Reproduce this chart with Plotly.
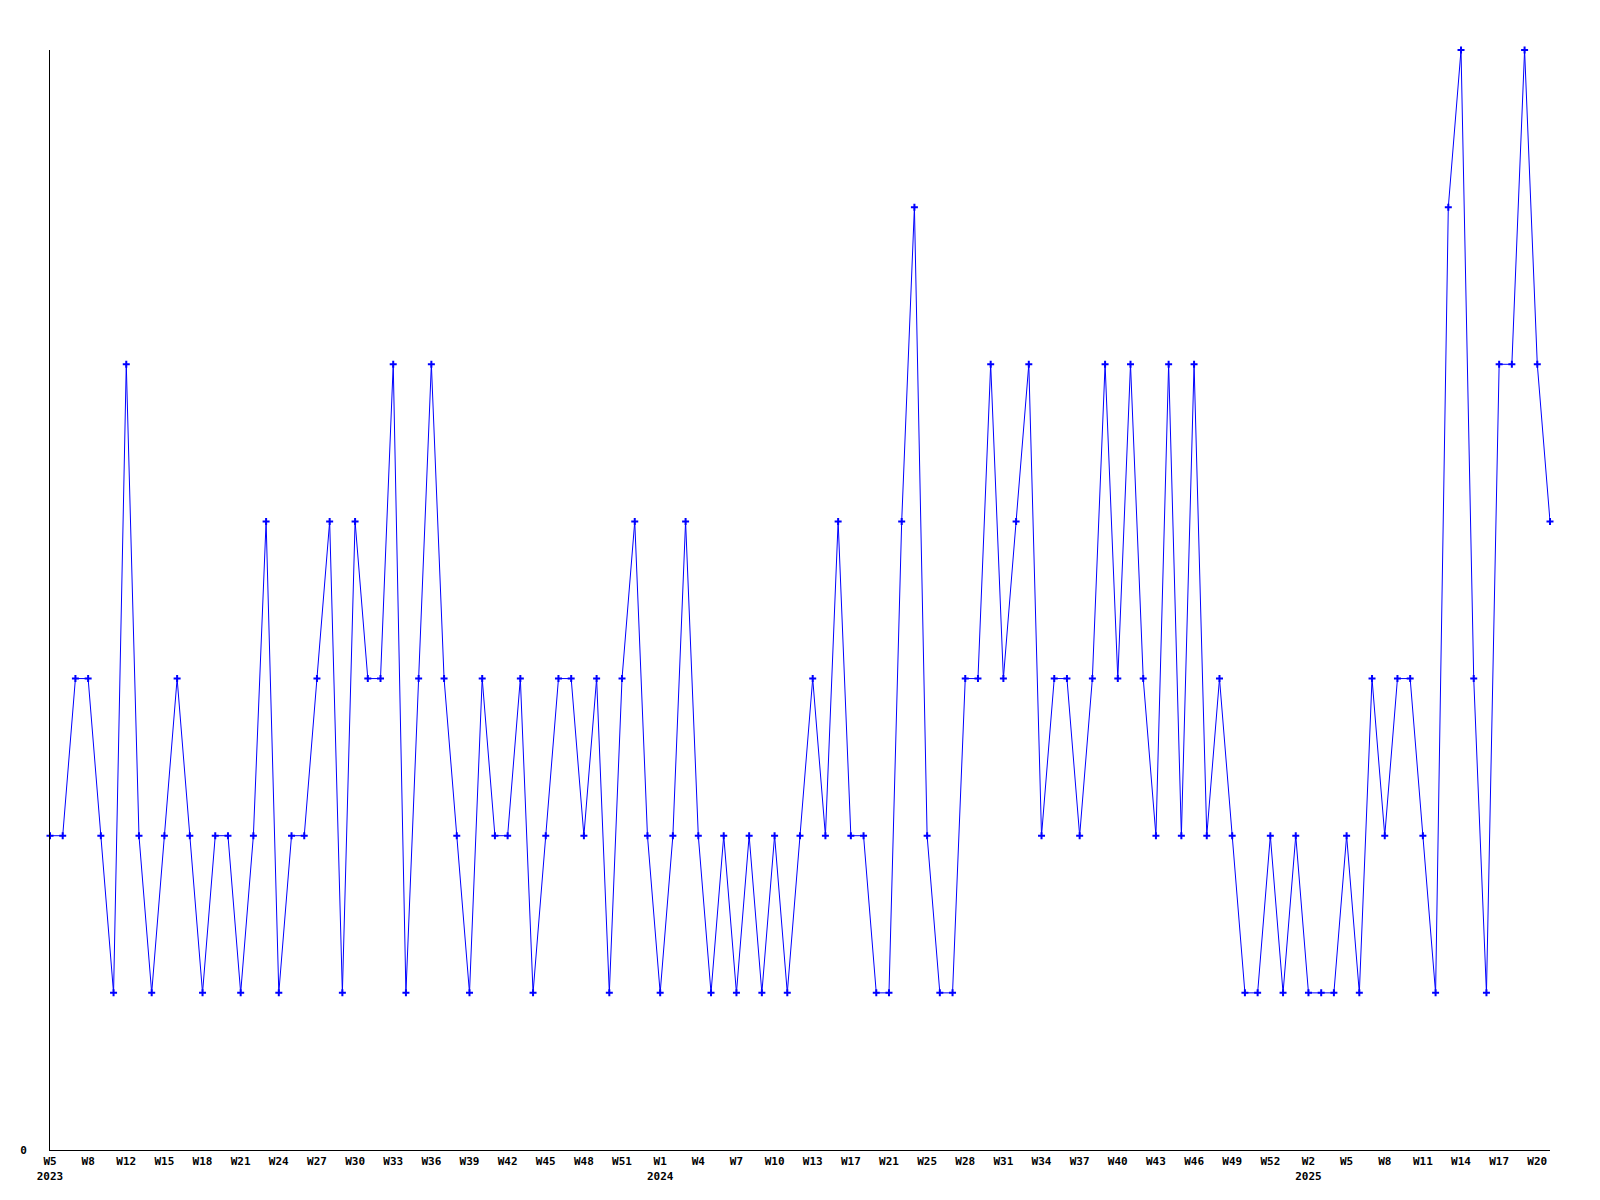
import plotly.graph_objects as go

# weekly values, 2023 W5 onward (119 points)
values = [
    2, 2, 3, 3, 2, 1, 5, 2, 1, 2, 3, 2, 1, 2, 2, 1, 2, 4, 1, 2,
    2, 3, 4, 1, 4, 3, 3, 5, 1, 3, 5, 3, 2, 1, 3, 2, 2, 3, 1, 2,
    3, 3, 2, 3, 1, 3, 4, 2, 1, 2, 4, 2, 1, 2, 1, 2, 1, 2, 1, 2,
    3, 2, 4, 2, 2, 1, 1, 4, 6, 2, 1, 1, 3, 3, 5, 3, 4, 5, 2, 3,
    3, 2, 3, 5, 3, 5, 3, 2, 5, 2, 5, 2, 3, 2, 1, 1, 2, 1, 2, 1,
    1, 1, 2, 1, 3, 2, 3, 3, 2, 1, 6, 7, 3, 1, 5, 5, 7, 5, 4,
]

# tick labels, one every 3rd point
tick_labels = [
    "W5<br>2023", "W8", "W12", "W15", "W18", "W21", "W24", "W27", "W30", "W33",
    "W36", "W39", "W42", "W45", "W48", "W51", "W1<br>2024", "W4", "W7", "W10",
    "W13", "W17", "W21", "W25", "W28", "W31", "W34", "W37", "W40", "W43",
    "W46", "W49", "W52", "W2<br>2025", "W5", "W8", "W11", "W14", "W17", "W20",
]
tick_step = 3

x = list(range(len(values)))
tickvals = [i * tick_step for i in range(len(tick_labels))]

fig = go.Figure()
fig.add_trace(go.Scatter(
    x=x, y=values, mode="lines+markers",
    line=dict(color="#0000FF", width=1),
    marker=dict(symbol="cross-thin", size=5, color="#0000FF",
                line=dict(color="#0000FF", width=2)),
    cliponaxis=False,
    showlegend=False,
))

font = dict(family="DejaVu Sans Mono", size=11, color="black", weight="bold")

fig.update_layout(
    width=1600, height=1200,
    margin=dict(l=42, r=58, t=42, b=58, autoexpand=False),
    paper_bgcolor="white", plot_bgcolor="white",
    xaxis=dict(
        range=[0, len(values) - 1],
        tickmode="array", tickvals=tickvals, ticktext=tick_labels,
        showgrid=False, zeroline=False, automargin=False,
        showline=True, linecolor="black", linewidth=1,
        ticks="outside", ticklen=1, tickcolor="rgba(0,0,0,0)",
        tickfont=font, tickangle=0,
    ),
    yaxis=dict(
        range=[0, 7],
        tickmode="array", tickvals=[0], ticktext=["0"],
        showgrid=False, zeroline=False, automargin=False,
        showline=True, linecolor="black", linewidth=1,
        ticks="outside", ticklen=20, tickcolor="rgba(0,0,0,0)",
        tickfont=font,
    ),
)

fig.write_html("out.html")
